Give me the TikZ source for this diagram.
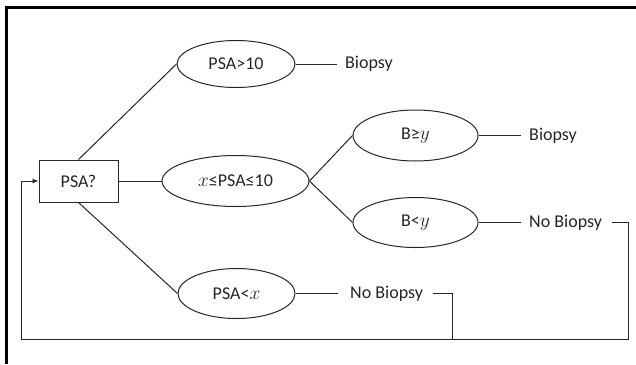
\documentclass[tikz,border=0pt]{standalone}
\usepackage{fontspec}
\setmainfont{Carlito}
\usetikzlibrary{shapes.geometric,arrows.meta}
\newcommand{\mv}[1]{\scalebox{1.12}{$#1$}}
\begin{document}
\begin{tikzpicture}[x=1pt,y=-1pt,
  every node/.style={font=\fontsize{18}{21}\selectfont, text=black!85},
  cond/.style={ellipse, draw=black!85, line width=1pt, inner sep=0pt},
  qbox/.style={rectangle, draw=black!85, line width=1pt,
               minimum width=79pt, minimum height=42pt, inner sep=0pt},
  outcome/.style={anchor=west, inner sep=0pt},
  link/.style={draw=black!85, line width=1pt},
  frame/.style={line width=3pt, draw=black}]
\useasboundingbox (0,0) rectangle (636,364);
% frame edges
\draw[frame] (6.5,364) -- (6.5,7) -- (636,7);

% decision nodes
\node[qbox] (q) at (78.5,181) {PSA?};
\node[cond, minimum width=118pt, minimum height=47pt] (hi)  at (236,64)      {PSA>10};
\node[cond, minimum width=147pt, minimum height=51pt] (mid) at (235.5,181)   {\mv{x}≤PSA≤10};
\node[cond, minimum width=117pt, minimum height=50pt] (lo)  at (236.5,293.5) {PSA<\mv{x}};
\node[cond, minimum width=125pt, minimum height=51pt] (bge) at (415.5,135.5) {B≥\mv{y}};
\node[cond, minimum width=125pt, minimum height=50pt] (blt) at (415.5,222.5) {B<\mv{y}};

% outcomes
\node[outcome] (o1) at (345,64)    {Biopsy};
\node[outcome] (o2) at (529,135.5) {Biopsy};
\node[outcome] (o3) at (350,293.5) {No Biopsy};
\node[outcome] (o4) at (529,222.5) {No Biopsy};

% branches
\draw[link] (q.north) -- (hi.west);
\draw[link] (q.east) -- (mid.west);
\draw[link] (q.south) -- (lo.west);
\draw[link] (mid.east) -- (bge.west);
\draw[link] (mid.east) -- (blt.west);
\draw[link, shorten >=8pt] (hi.east) -- (o1.west);
\draw[link, shorten >=8pt] (bge.east) -- (o2.west);
\draw[link, shorten >=8pt] (blt.east) -- (o4.west);
\draw[link, shorten >=12pt] (lo.east) -- (o3.west);

% return loop
\coordinate (br) at (628,339);
\coordinate (bl) at (21,339);
\coordinate (bm) at (452,339);
\draw[link, shorten <=10pt, -{Latex[length=6pt,width=5pt]}]
  (o4.east) -| (br) -- (bl) |- (q.west);
\draw[link, shorten <=10pt] (o3.east) -| (bm);
\end{tikzpicture}
\end{document}
